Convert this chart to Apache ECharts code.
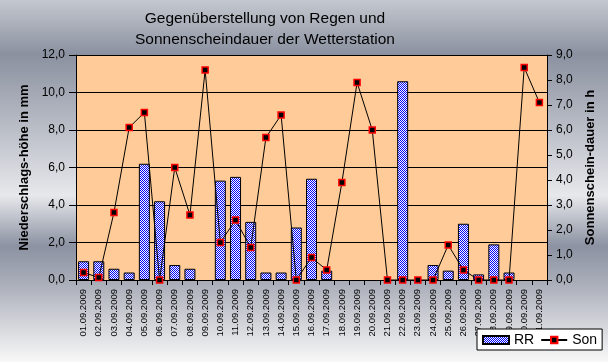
<!DOCTYPE html>
<html>
<head>
<meta charset="utf-8">
<script src="https://cdn.jsdelivr.net/npm/echarts@6/dist/echarts.min.js"></script>
<style>html,body{margin:0;padding:0;}#c{width:608px;height:362px;}</style>
</head>
<body>
<div id="c"></div>
<script>
const categories = ["01.09.2009","02.09.2009","03.09.2009","04.09.2009","05.09.2009","06.09.2009","07.09.2009","08.09.2009","09.09.2009","10.09.2009","11.09.2009","12.09.2009","13.09.2009","14.09.2009","15.09.2009","16.09.2009","17.09.2009","18.09.2009","19.09.2009","20.09.2009","21.09.2009","22.09.2009","23.09.2009","24.09.2009","25.09.2009","26.09.2009","27.09.2009","28.09.2009","29.09.2009","30.09.2009","31.09.2009"];
const rr  = [1.0,1.0,0.6,0.4,6.2,4.2,0.8,0.6,0,5.3,5.5,3.1,0.4,0.4,2.8,5.4,0.5,0,0,0,0,10.6,0,0.8,0.5,3.0,0.3,1.9,0.4,0,0];
const son = [0.3,0.1,2.7,6.1,6.7,0.0,4.5,2.6,8.4,1.5,2.4,1.3,5.7,6.6,0.0,0.9,0.4,3.9,7.9,6.0,0.0,0.0,0.0,0.0,1.4,0.4,0.0,0.0,0.0,8.5,7.1];
const leftTicks = {min:0, max:12, interval:2};
const rightTicks = {min:0, max:9, interval:1};
const titleText = "Gegenüberstellung von Regen und\nSonnenscheindauer der Wetterstation";

const FONT = "'Liberation Sans', Arial, sans-serif";
// checker pattern
const pc = document.createElement('canvas');
pc.width = 2; pc.height = 2;
const pctx = pc.getContext('2d');
pctx.fillStyle = '#ffffff'; pctx.fillRect(0,0,2,2);
pctx.fillStyle = '#0000ff'; pctx.fillRect(0,0,1,1); pctx.fillRect(1,1,1,1);
const pattern = {image: pc, repeat: 'repeat'};

const fmt = v => v.toFixed(1).replace('.', ',');

const chart = echarts.init(document.getElementById('c'), null, {renderer:'canvas'});
chart.setOption({
  animation: false,
  backgroundColor: new echarts.graphic.LinearGradient(0,0,0,1,[
    {offset:0, color:'#c4c8cf'},
    {offset:0.15, color:'#8b91a0'},
    {offset:0.33, color:'#b4b8c2'},
    {offset:0.54, color:'#e6e8eb'},
    {offset:0.68, color:'#8c92a2'},
    {offset:0.78, color:'#a9adb8'},
    {offset:1, color:'#f8f8f8'}
  ]),
  title: {
    text: titleText,
    left: 260, top: 3, textAlign: 'center',
    textStyle: {fontFamily: FONT, fontSize: 15.5, fontWeight: 'normal', color: '#000', lineHeight: 21}
  },
  legend: {
    left: 477, top: 329,
    orient: 'horizontal',
    backgroundColor: '#ffffff', borderColor: '#000', borderWidth: 1, borderRadius: 0,
    padding: [4,5,3,5], itemGap: 6, itemWidth: 26, itemHeight: 8,
    textStyle: {fontFamily: FONT, fontSize: 14, color: '#000'},
    data: [{name:'RR', icon:'rect'}, {name:'Son'}]
  },
  grid: {left: 76, right: 61, top: 55, bottom: 82, show: true, backgroundColor: '#FFCC99', borderWidth: 0},
  xAxis: {
    type: 'category', data: categories, boundaryGap: true,
    axisLine: {lineStyle: {color:'#000', width: 1}},
    axisTick: {show: true, length: 5, lineStyle: {color:'#000'}},
    axisLabel: {rotate: 90, interval: 0, fontFamily: FONT, fontSize: 9.5, color: '#000', margin: 9}
  },
  yAxis: [{
    type: 'value', min: leftTicks.min, max: leftTicks.max, interval: leftTicks.interval,
    name: 'Niederschlags-höhe in mm', nameLocation: 'middle', nameRotate: 90, nameGap: 39,
    nameTextStyle: {fontFamily: FONT, fontSize: 13, fontWeight: 'bold', color: '#000'},
    axisLine: {show: true, lineStyle: {color:'#000'}},
    axisTick: {show: true, length: 7, lineStyle: {color:'#000'}},
    axisLabel: {formatter: fmt, fontFamily: FONT, fontSize: 12, color: '#000', margin: 11},
    splitLine: {show: true, lineStyle: {color: '#000', width: 1}}
  },{
    type: 'value', min: rightTicks.min, max: rightTicks.max, interval: rightTicks.interval,
    position: 'right',
    name: 'Sonnenschein-dauer in h', nameLocation: 'middle', nameRotate: 90, nameGap: 30,
    nameTextStyle: {fontFamily: FONT, fontSize: 13, fontWeight: 'bold', color: '#000'},
    axisLine: {show: true, lineStyle: {color:'#000'}},
    axisTick: {show: true, length: 5, lineStyle: {color:'#000'}},
    axisLabel: {formatter: fmt, fontFamily: FONT, fontSize: 12, color: '#000', margin: 9},
    splitLine: {show: false}
  }],
  series: [{
    name: 'RR', type: 'bar', yAxisIndex: 0, data: rr.map(v => v === 0 ? '-' : v), barWidth: 11,
    itemStyle: {color: pattern, borderColor: '#000', borderWidth: 1},
    emphasis: {disabled: true}
  },{
    name: 'Son', type: 'line', yAxisIndex: 1, data: son,
    symbol: 'rect', symbolSize: 6, showAllSymbol: true,
    lineStyle: {color: '#000', width: 1},
    itemStyle: {color: '#000', borderColor: '#ff0000', borderWidth: 1.5},
    emphasis: {disabled: true}
  }]
});
</script>
</body>
</html>
